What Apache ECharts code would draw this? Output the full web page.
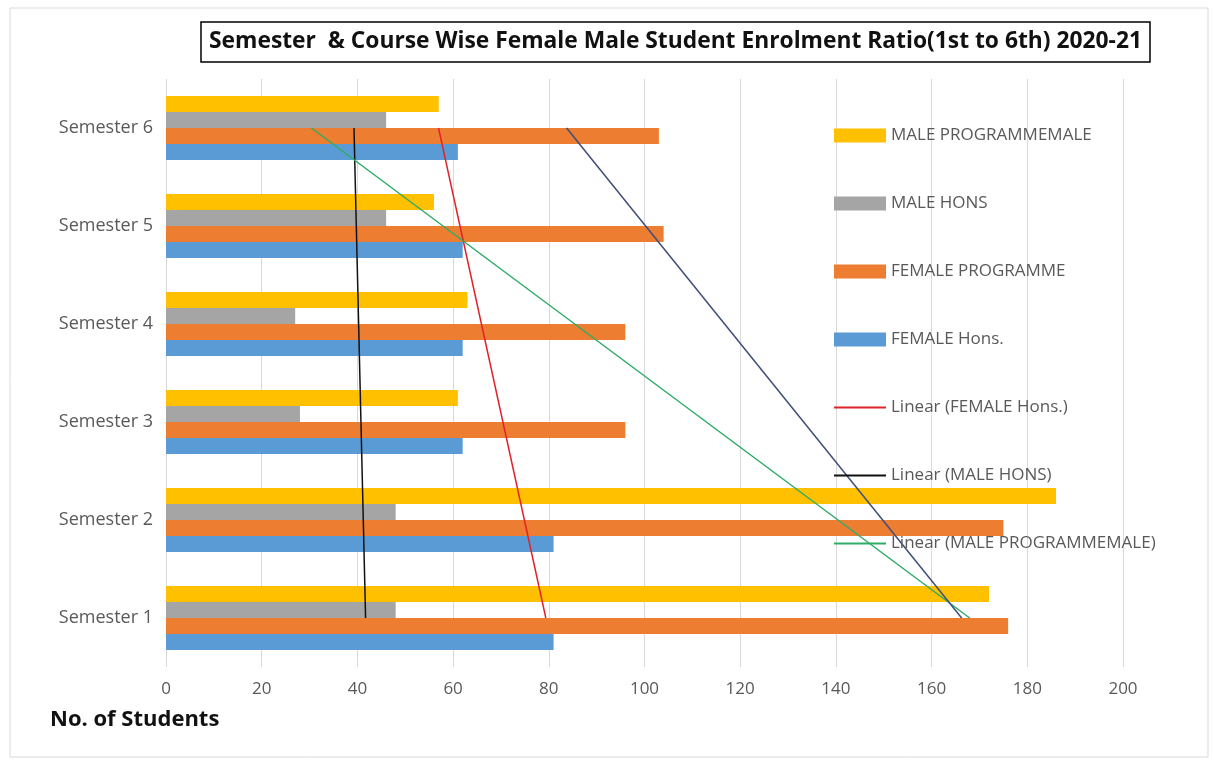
<!DOCTYPE html>
<html>
<head>
<meta charset="utf-8">
<script src="https://cdn.jsdelivr.net/npm/echarts@6/dist/echarts.min.js"></script>
<style>
  html, body { margin: 0; padding: 0; background: #fff; }
  #chart { width: 1214px; height: 760px; }
</style>
</head>
<body>
<div id="chart"></div>
<script>
var semesters = ['Semester 1', 'Semester 2', 'Semester 3', 'Semester 4', 'Semester 5', 'Semester 6'];
var femaleHons = [81, 81, 62, 62, 62, 61];
var femaleProg = [176, 175, 96, 96, 104, 103];
var maleHons = [48, 48, 28, 27, 46, 46];
var maleProg = [172, 186, 61, 63, 56, 57];
var xTicks = [0, 20, 40, 60, 80, 100, 120, 140, 160, 180, 200];

// least squares trend over the category index, like Excel's linear trendline
function trend(vals) {
    var n = vals.length, sx = 0, sy = 0, sxy = 0, sxx = 0;
    for (var i = 0; i < n; i++) {
        sx += i; sy += vals[i]; sxy += i * vals[i]; sxx += i * i;
    }
    var b = (n * sxy - sx * sy) / (n * sxx - sx * sx);
    var a = (sy - b * sx) / n;
    return vals.map(function (v, i) { return [a + b * i, semesters[i]]; });
}

var myChart = echarts.init(document.getElementById('chart'));

var labelFont = 'Open Sans, Noto Sans, sans-serif';

function barSeries(name, data, color) {
    return {
        name: name,
        type: 'bar',
        data: data,
        barWidth: 16,
        barGap: '0%',
        itemStyle: { color: color },
        z: 2
    };
}

function trendSeries(name, data, color) {
    return {
        name: name,
        type: 'line',
        data: trend(data),
        symbol: 'none',
        lineStyle: { color: color, width: 1.5 },
        itemStyle: { color: color, opacity: 0 },   // hides the dot in the legend
        z: 3
    };
}

var option = {
    backgroundColor: '#fff',
    animation: false,
    title: {
        text: 'Semester  & Course Wise Female Male Student Enrolment Ratio(1st to 6th) 2020-21',
        left: 201,
        top: 22,
        padding: [8, 8, 9, 8],
        borderColor: '#000',
        borderWidth: 1.5,
        textStyle: {
            fontFamily: labelFont,
            fontWeight: 'bold',
            fontSize: 22.8,
            color: '#111'
        }
    },
    legend: {
        orient: 'vertical',
        left: 828,
        top: 122,
        itemWidth: 52,
        itemHeight: 14,
        itemGap: 51,
        textStyle: { color: '#595959', fontSize: 17, fontFamily: labelFont },
        data: [
            { name: 'MALE PROGRAMMEMALE', icon: 'rect' },
            { name: 'MALE HONS', icon: 'rect' },
            { name: 'FEMALE PROGRAMME', icon: 'rect' },
            { name: 'FEMALE Hons.', icon: 'rect' },
            'Linear (FEMALE Hons.)',
            'Linear (MALE HONS)',
            'Linear (MALE PROGRAMMEMALE)'
        ]
    },
    grid: {
        left: 166,
        right: 91,
        top: 79,
        bottom: 93
    },
    xAxis: {
        type: 'value',
        min: 0,
        max: 200,
        interval: 20,
        axisLine: { show: false },
        axisTick: { show: false },
        splitLine: { lineStyle: { color: '#d9d9d9', width: 1 } },
        axisLabel: {
            color: '#595959',
            fontSize: 17,
            fontFamily: labelFont,
            margin: 14,
            formatter: function (v) { return xTicks.indexOf(v) >= 0 ? String(v) : ''; }
        }
    },
    yAxis: {
        type: 'category',
        data: semesters,
        axisLine: { show: false },
        axisTick: { show: false },
        axisLabel: {
            color: '#595959',
            fontSize: 18,
            fontFamily: labelFont,
            margin: 13
        }
    },
    graphic: [
        {
            type: 'rect',
            shape: { x: 10, y: 8, width: 1198, height: 749 },
            style: { fill: 'none', stroke: '#d9d9d9', lineWidth: 1 },
            silent: true,
            z: -1
        },
        {
            type: 'text',
            left: 50,
            top: 709,
            style: {
                text: 'No. of Students',
                font: 'bold 22px ' + labelFont,
                fill: '#111'
            }
        }
    ],
    series: [
        barSeries('MALE PROGRAMMEMALE', maleProg, '#FFC000'),
        barSeries('MALE HONS', maleHons, '#A5A5A5'),
        barSeries('FEMALE PROGRAMME', femaleProg, '#ED7D31'),
        barSeries('FEMALE Hons.', femaleHons, '#5B9BD5'),
        trendSeries('Linear (FEMALE Hons.)', femaleHons, '#E0232B'),
        trendSeries('Linear (MALE HONS)', maleHons, '#111111'),
        trendSeries('Linear (MALE PROGRAMMEMALE)', maleProg, '#2EAD66'),
        trendSeries('Linear (FEMALE PROGRAMME)', femaleProg, '#3F4F7A')
    ]
};

myChart.setOption(option);
</script>
</body>
</html>
